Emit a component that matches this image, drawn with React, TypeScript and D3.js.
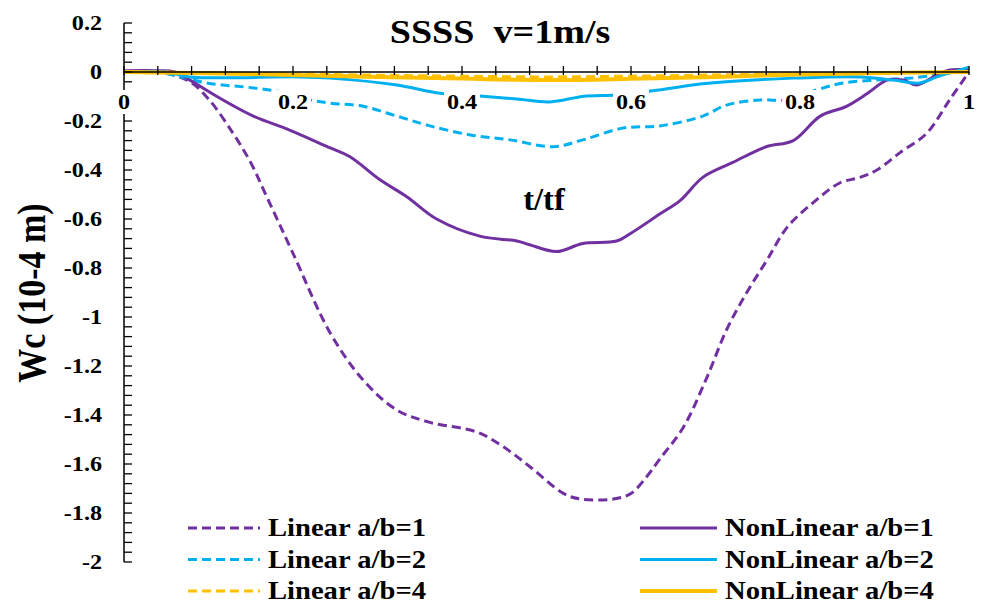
import React from "react";
import * as d3 from "d3";

const W = 986;
const H = 604;

const title = "SSSS\u00a0\u00a0v=1m/s";
const xLabel = "t/tf";
const yLabel = "Wc (10-4 m)";

const xMajorTicks = [0, 0.2, 0.4, 0.6, 0.8, 1];
const xTickLabels = ["0", "0.2", "0.4", "0.6", "0.8", "1"];
const yMajorTicks = [0.2, 0, -0.2, -0.4, -0.6, -0.8, -1, -1.2, -1.4, -1.6, -1.8, -2];
const yTickLabels = ["0.2", "0", "-0.2", "-0.4", "-0.6", "-0.8", "-1", "-1.2", "-1.4", "-1.6", "-1.8", "-2"];

const lin1X = [0, 0.05, 0.078, 0.1, 0.129, 0.15, 0.169, 0.2, 0.244, 0.283, 0.323, 0.362, 0.418, 0.449, 0.48, 0.52, 0.54, 0.579, 0.6, 0.619, 0.634, 0.662, 0.69, 0.713, 0.737, 0.761, 0.785, 0.815, 0.847, 0.871, 0.891, 0.918, 0.95, 0.977, 1.0];
const lin1Y = [0, -0.005, -0.04, -0.11, -0.25, -0.37, -0.51, -0.74, -1.065, -1.257, -1.38, -1.43, -1.47, -1.53, -1.61, -1.72, -1.743, -1.743, -1.72, -1.65, -1.58, -1.45, -1.245, -1.053, -0.9, -0.767, -0.633, -0.535, -0.453, -0.43, -0.4, -0.33, -0.25, -0.114, 0.0];

const non1X = [0, 0.04, 0.06, 0.078, 0.11, 0.153, 0.196, 0.244, 0.267, 0.303, 0.335, 0.37, 0.421, 0.465, 0.48, 0.512, 0.543, 0.583, 0.599, 0.634, 0.658, 0.685, 0.72, 0.76, 0.792, 0.824, 0.855, 0.88, 0.903, 0.922, 0.938, 0.962, 0.977, 1.0];
const non1Y = [0.005, 0.005, 0, -0.033, -0.1, -0.18, -0.237, -0.31, -0.345, -0.44, -0.51, -0.6, -0.67, -0.69, -0.705, -0.733, -0.7, -0.69, -0.66, -0.58, -0.525, -0.43, -0.37, -0.305, -0.28, -0.18, -0.14, -0.087, -0.033, -0.033, -0.053, -0.012, 0.008, 0.008];

const lin2X = [0, 0.04, 0.058, 0.098, 0.153, 0.196, 0.22, 0.244, 0.283, 0.323, 0.362, 0.41, 0.457, 0.508, 0.543, 0.59, 0.634, 0.685, 0.713, 0.753, 0.785, 0.82, 0.851, 0.891, 0.934, 0.977, 1.0];
const lin2Y = [0, 0, -0.012, -0.045, -0.065, -0.087, -0.114, -0.127, -0.14, -0.18, -0.22, -0.257, -0.277, -0.305, -0.277, -0.229, -0.22, -0.18, -0.135, -0.114, -0.114, -0.073, -0.045, -0.033, -0.024, -0.004, 0.01];

const non2X = [0, 0.05, 0.078, 0.208, 0.244, 0.323, 0.374, 0.421, 0.465, 0.504, 0.543, 0.583, 0.619, 0.634, 0.673, 0.713, 0.792, 0.871, 0.91, 0.942, 0.962, 1.0];
const non2Y = [0, 0, -0.02, -0.02, -0.025, -0.053, -0.087, -0.098, -0.11, -0.122, -0.1, -0.094, -0.08, -0.073, -0.053, -0.04, -0.025, -0.02, -0.033, -0.045, -0.02, 0.02];

const ab4X = [0, 0.1, 0.2, 0.3, 0.4, 0.5, 0.6, 0.7, 0.8, 0.9, 1.0];
const lin4Y = [0, -0.003, -0.008, -0.013, -0.017, -0.02, -0.017, -0.012, -0.007, -0.003, 0];
const non4Y = [0, -0.005, -0.012, -0.02, -0.027, -0.033, -0.028, -0.02, -0.01, -0.004, 0];

const PURPLE = "#7030A0";
const BLUE = "#00B0F0";
const ORANGE = "#FFC000";

const series = [
  { name: "Linear a/b=1", xs: lin1X, ys: lin1Y, color: PURPLE, dashed: true, w: 3 },
  { name: "Linear a/b=2", xs: lin2X, ys: lin2Y, color: BLUE, dashed: true, w: 3 },
  { name: "NonLinear a/b=1", xs: non1X, ys: non1Y, color: PURPLE, dashed: false, w: 3 },
  { name: "NonLinear a/b=2", xs: non2X, ys: non2Y, color: BLUE, dashed: false, w: 3 },
  { name: "Linear a/b=4", xs: ab4X, ys: lin4Y, color: ORANGE, dashed: true, w: 3 },
  { name: "NonLinear a/b=4", xs: ab4X, ys: non4Y, color: ORANGE, dashed: false, w: 4 },
];

const legendLeft = ["Linear a/b=1", "Linear a/b=2", "Linear a/b=4"];
const legendRight = ["NonLinear a/b=1", "NonLinear a/b=2", "NonLinear a/b=4"];

const FONT = "'Liberation Serif', 'DejaVu Serif', 'Times New Roman', Times, serif";

function SText({ x, y, sx = 1.15, size, anchor = "middle", children, rotate = 0 }: any) {
  return (
    <text
      transform={`translate(${x},${y}) scale(${sx},1)${rotate ? ` rotate(${rotate})` : ""}`}
      fontFamily={FONT}
      fontWeight={700}
      fontSize={size}
      textAnchor={anchor}
      fill="#000"
    >
      {children}
    </text>
  );
}

export default function App() {
  const x = d3.scaleLinear().domain([0, 1]).range([124, 969]);
  const y = d3.scaleLinear().domain([0, -2]).range([72, 562]);
  const line = d3
    .line<[number, number]>()
    .x((d) => x(d[0]))
    .y((d) => y(d[1]))
    .curve(d3.curveCatmullRom.alpha(0.5));

  const minorX = d3.range(0, 26).map((i) => i * 0.04);
  const minorY = d3.range(0, 56).map((i) => 0.2 - i * 0.04);

  const byName = (n: string) => series.find((s) => s.name === n)!;

  return (
    <svg width={W} height={H} style={{ position: "absolute", left: 0, top: 0, background: "#fff", fontFamily: FONT }}>
      <rect x={0} y={0} width={W} height={H} fill="#fff" />
      {series.map((s) => (
        <path
          key={s.name}
          d={line(s.xs.map((v, i) => [v, s.ys[i]] as [number, number])) || ""}
          fill="none"
          stroke={s.color}
          strokeWidth={s.w}
          strokeDasharray={s.dashed ? "9,5" : undefined}
        />
      ))}
      <line x1={x(0)} x2={x(1)} y1={y(0)} y2={y(0)} stroke="#000" strokeWidth={1.5} />
      {minorX.map((v, i) => (
        <line key={"xt" + i} x1={x(v)} x2={x(v)} y1={y(0) - 6} y2={y(0) + 3} stroke="#000" strokeWidth={1.3} />
      ))}
      <line x1={x(0)} x2={x(0)} y1={y(0.2)} y2={y(-2)} stroke="#000" strokeWidth={1.5} />
      {minorY.map((v, i) => (
        <line key={"yt" + i} x1={x(0)} x2={x(0) + 8} y1={y(v)} y2={y(v)} stroke="#000" strokeWidth={1.3} />
      ))}
      {xMajorTicks.map((v, i) => {
        const w = xTickLabels[i].length * 10 + 6;
        return (
          <g key={"xl" + i}>
            <rect x={x(v) - w / 2} y={90} width={w} height={24} fill="#fff" />
            <SText x={x(v)} y={109} size={21} sx={1.15}>
              {xTickLabels[i]}
            </SText>
          </g>
        );
      })}
      {yMajorTicks.map((v, i) => (
        <SText key={"yl" + i} x={102} y={y(v) + 7} size={21} sx={1.15} anchor="end">
          {yTickLabels[i]}
        </SText>
      ))}
      <SText x={500} y={43} size={34} sx={1.12}>
        {title}
      </SText>
      <SText x={544} y={210} size={31} sx={1.05}>
        {xLabel}
      </SText>
      <SText x={45} y={293} size={34} sx={1.2} rotate={-90}>
        {yLabel}
      </SText>
      {legendLeft.map((n, i) => {
        const s = byName(n);
        const cy = 528 + i * 31.5;
        return (
          <g key={n}>
            <line x1={188} x2={260} y1={cy} y2={cy} stroke={s.color} strokeWidth={s.w} strokeDasharray="9,5" />
            <SText x={268} y={cy + 8} size={26} sx={1.1} anchor="start">
              {n}
            </SText>
          </g>
        );
      })}
      {legendRight.map((n, i) => {
        const s = byName(n);
        const cy = 528 + i * 31.5;
        return (
          <g key={n}>
            <line x1={640} x2={717} y1={cy} y2={cy} stroke={s.color} strokeWidth={s.w} />
            <SText x={725} y={cy + 8} size={26} sx={1.1} anchor="start">
              {n}
            </SText>
          </g>
        );
      })}
    </svg>
  );
}
